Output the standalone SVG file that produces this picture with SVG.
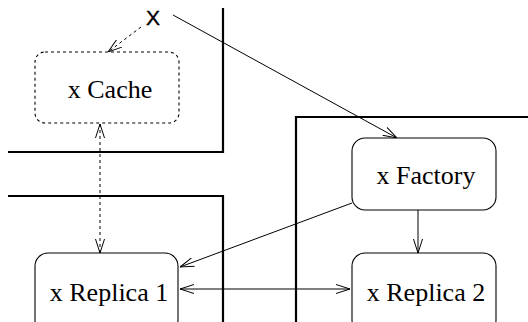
<svg xmlns="http://www.w3.org/2000/svg" width="528" height="322" viewBox="0 0 528 322">
  <defs>
    <marker id="open" viewBox="0 0 14 10" refX="14" refY="5" markerWidth="14" markerHeight="10" markerUnits="userSpaceOnUse" orient="auto-start-reverse">
      <path d="M0,0.5 L14,5 L0,9.5" fill="none" stroke="#000" stroke-width="1"/>
    </marker>
  </defs>
  <style>
    .wall { fill: none; stroke: #000; stroke-width: 2.2; }
    .box { fill: #fff; stroke: #000; stroke-width: 1.1; }
    .dashed { stroke-dasharray: 3 3; }
    .conn { fill: none; stroke: #000; stroke-width: 1; }
    .lbl { font-family: 'Liberation Serif', 'Times New Roman', serif; font-size: 26px; text-anchor: middle; fill: #000; }
    .mark { font-family: 'Liberation Sans', Arial, sans-serif; font-size: 21px; text-anchor: middle; fill: #000; stroke: #000; stroke-width: 0.4; }
  </style>

  <!-- walls -->
  <g id="walls">
    <path class="wall" d="M223,8 V152 H8"/>
    <path class="wall" d="M8,196 H223 V322"/>
    <path class="wall" d="M296,322 V117 H528"/>
  </g>

  <!-- connectors -->
  <g id="connectors">
    <line class="conn dashed" x1="141" y1="27" x2="108" y2="52" marker-end="url(#open)"/>
    <line class="conn" x1="173" y1="15" x2="397" y2="138" marker-end="url(#open)"/>
    <line class="conn dashed" x1="100" y1="124" x2="100" y2="253" marker-start="url(#open)" marker-end="url(#open)"/>
    <line class="conn" x1="352" y1="203" x2="180" y2="267" marker-end="url(#open)"/>
    <line class="conn" x1="180" y1="289" x2="350" y2="289" marker-start="url(#open)" marker-end="url(#open)"/>
    <line class="conn" x1="418" y1="210" x2="418" y2="253" marker-end="url(#open)"/>
  </g>

  <g id="x-mark">
    <text class="mark" x="153" y="25">X</text>
  </g>

  <g id="cache">
    <rect class="box dashed" x="35" y="52" width="144" height="71" rx="10"/>
    <text class="lbl" x="110" y="98">x Cache</text>
  </g>

  <g id="factory">
    <rect class="box" x="352" y="138" width="144" height="72" rx="13"/>
    <text class="lbl" x="426" y="184">x Factory</text>
  </g>

  <g id="replica1">
    <rect class="box" x="35" y="253" width="143" height="80" rx="13"/>
    <text class="lbl" x="109" y="301">x Replica 1</text>
  </g>

  <g id="replica2">
    <rect class="box" x="352" y="253" width="144" height="80" rx="13"/>
    <text class="lbl" x="426" y="301">x Replica 2</text>
  </g>
</svg>
